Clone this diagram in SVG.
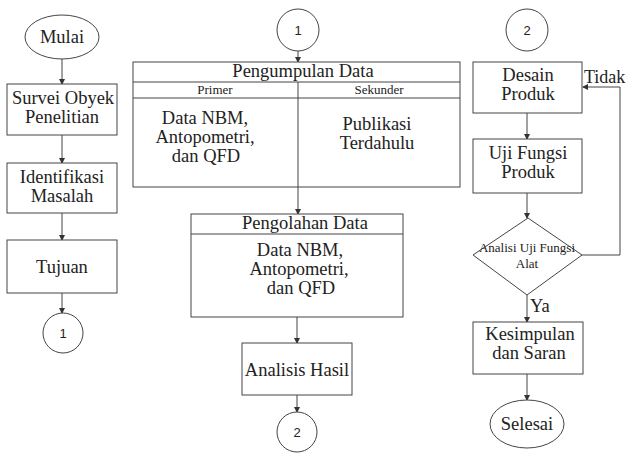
<svg xmlns="http://www.w3.org/2000/svg" width="626" height="453" viewBox="0 0 626 453">
<style>
.s{fill:#fff;stroke:#444;stroke-width:1}
.t{font-family:'Liberation Serif','DejaVu Serif',serif;font-size:18.5px;fill:#222;text-anchor:middle}
.sm{font-size:13px}
.c{font-family:'Liberation Sans','DejaVu Sans',sans-serif;font-size:13px;fill:#222;text-anchor:middle}
.l{fill:none;stroke:#444;stroke-width:1}
</style>
<defs>
<marker id="a" markerWidth="6" markerHeight="6" refX="5" refY="3" orient="auto" markerUnits="userSpaceOnUse">
<path d="M0,0 L6,3 L0,6 Z" fill="#333"/>
</marker>
</defs>
<rect width="626" height="453" fill="#fff"/>
<g id="connectors">
<line class="l" x1="62" y1="59" x2="62" y2="84" marker-end="url(#a)"/>
<line class="l" x1="62" y1="135" x2="62" y2="163" marker-end="url(#a)"/>
<line class="l" x1="62" y1="213" x2="62" y2="240" marker-end="url(#a)"/>
<line class="l" x1="62" y1="293" x2="62" y2="313" marker-end="url(#a)"/>
<line class="l" x1="298" y1="51" x2="298" y2="62" marker-end="url(#a)"/>
<line class="l" x1="298" y1="187" x2="298" y2="214" marker-end="url(#a)"/>
<line class="l" x1="297" y1="317" x2="297" y2="343" marker-end="url(#a)"/>
<line class="l" x1="297" y1="395" x2="297" y2="412" marker-end="url(#a)"/>
<line class="l" x1="527" y1="113" x2="527" y2="139" marker-end="url(#a)"/>
<line class="l" x1="527" y1="193" x2="527" y2="218" marker-end="url(#a)"/>
<line class="l" x1="527" y1="295" x2="527" y2="322" marker-end="url(#a)"/>
<line class="l" x1="527" y1="374" x2="527" y2="400" marker-end="url(#a)"/>
<polyline class="l" points="582,255 620,255 620,87 583,87" marker-end="url(#a)"/>
</g>
<g id="mulai"><ellipse class="s" cx="62" cy="37" rx="37" ry="22"/><text class="t" x="62" y="43">Mulai</text></g>
<g id="survei"><rect class="s" x="7" y="84" width="110" height="51"/><text class="t" x="63" y="104">Survei Obyek</text><text class="t" x="62" y="123">Penelitian</text></g>
<g id="identifikasi"><rect class="s" x="7" y="163" width="110" height="50"/><text class="t" x="62" y="183">Identifikasi</text><text class="t" x="62" y="202">Masalah</text></g>
<g id="tujuan"><rect class="s" x="7" y="240" width="110" height="53"/><text class="t" x="62" y="273">Tujuan</text></g>
<g id="con1a"><circle class="s" cx="63" cy="333" r="20"/><text class="c" x="63" y="338">1</text></g>
<g id="con1b"><circle class="s" cx="298" cy="30" r="21"/><text class="c" x="298" y="35">1</text></g>
<g id="pengumpulan">
<rect class="s" x="133" y="62" width="327" height="125"/>
<line class="l" x1="133" y1="82" x2="460" y2="82"/>
<line class="l" x1="133" y1="98" x2="460" y2="98"/>
<line class="l" x1="298" y1="82" x2="298" y2="187"/>
<text class="t" x="303" y="77">Pengumpulan Data</text>
<text class="t sm" x="215" y="94">Primer</text>
<text class="t sm" x="379" y="94">Sekunder</text>
<text class="t" x="205" y="124">Data NBM,</text>
<text class="t" x="205" y="143">Antopometri,</text>
<text class="t" x="206" y="162">dan QFD</text>
<text class="t" x="377" y="130">Publikasi</text>
<text class="t" x="377" y="149">Terdahulu</text>
</g>
<g id="pengolahan">
<rect class="s" x="191" y="214" width="212" height="103"/>
<line class="l" x1="191" y1="234" x2="403" y2="234"/>
<text class="t" x="305" y="229">Pengolahan Data</text>
<text class="t" x="300" y="256">Data NBM,</text>
<text class="t" x="299" y="275">Antopometri,</text>
<text class="t" x="301" y="294">dan QFD</text>
</g>
<g id="analisis"><rect class="s" x="242" y="343" width="110" height="52"/><text class="t" x="297" y="376">Analisis Hasil</text></g>
<g id="con2a"><circle class="s" cx="297" cy="432" r="20"/><text class="c" x="297" y="437">2</text></g>
<g id="con2b"><circle class="s" cx="527" cy="30" r="21"/><text class="c" x="527" y="35">2</text></g>
<g id="desain"><rect class="s" x="473" y="62" width="109" height="51"/><text class="t" x="528" y="81">Desain</text><text class="t" x="528" y="100">Produk</text></g>
<g id="uji"><rect class="s" x="473" y="139" width="109" height="54"/><text class="t" x="528" y="159">Uji Fungsi</text><text class="t" x="528" y="178">Produk</text></g>
<g id="analisi"><polygon class="s" points="528,218 582,255 527,295 473,255"/><text class="t sm" x="527" y="252">Analisi Uji Fungsi</text><text class="t sm" x="527" y="268">Alat</text></g>
<g id="kesimpulan"><rect class="s" x="473" y="322" width="110" height="52"/><text class="t" x="530" y="340">Kesimpulan</text><text class="t" x="529" y="359">dan Saran</text></g>
<g id="selesai"><ellipse class="s" cx="527" cy="424" rx="37" ry="24"/><text class="t" x="527" y="430">Selesai</text></g>
<g id="labels">
<text class="t" x="584" y="83" style="text-anchor:start;font-size:18px">Tidak</text>
<text class="t" x="530" y="312" style="text-anchor:start">Ya</text>
</g>
</svg>
